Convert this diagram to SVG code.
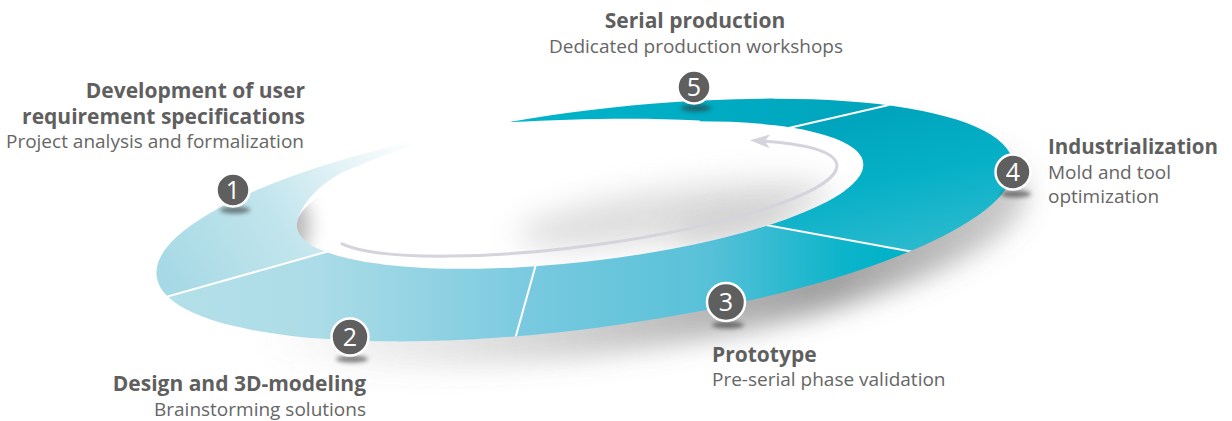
<svg xmlns="http://www.w3.org/2000/svg" width="1232" height="421" viewBox="0 0 1232 421">
<defs>
<style>
.t{font-family:"Open Sans","Noto Sans","DejaVu Sans",sans-serif;fill:#666666}
.b{font-weight:700;font-size:21px;fill:#5f5f5f}
.r{font-size:19px}
.e{text-anchor:end}
.m{text-anchor:middle}
.num{font-family:"Open Sans","DejaVu Sans",sans-serif;font-size:25px;fill:#ffffff;text-anchor:middle}
.badge{fill:#5f5f5f;stroke:#ffffff;stroke-width:2.5}
.bsh{fill:#333333;opacity:.6;filter:url(#fB)}
.div{stroke:#ffffff;stroke-width:2;fill:none}
.wht{fill:#ffffff}
</style>
<path id="outer" d="M156.7 276.4 A432 108 -7.5 1 1 1013.3 163.6 A432 108 -7.5 1 1 156.7 276.4 Z"/>
<filter id="fB" x="-50%" y="-300%" width="200%" height="700%"><feGaussianBlur stdDeviation="2"/></filter>
<filter id="fS" x="-15%" y="-40%" width="130%" height="180%"><feGaussianBlur stdDeviation="13"/></filter>
<filter id="fH" x="-40%" y="-100%" width="180%" height="300%"><feGaussianBlur stdDeviation="15"/></filter>
<filter id="fR" x="-100%" y="-100%" width="300%" height="300%"><feGaussianBlur stdDeviation="9"/></filter>
<clipPath id="clipOuter"><use href="#outer"/></clipPath>
<clipPath id="clipHole"><ellipse cx="580" cy="195" rx="285" ry="67" transform="rotate(-6.45 580 195)"/></clipPath>
<clipPath id="w1"><polygon points="580,195 333,250 105,314 0,330 0,0 300,0"/></clipPath>
<clipPath id="w2"><polygon points="580,195 333,250 105,314 90,421 492,421 538,257"/></clipPath>
<clipPath id="w3"><polygon points="580,195 538,257 492,421 1100,421 1050,277 750,222"/></clipPath>
<clipPath id="w4"><polygon points="580,195 750,222 1050,277 1232,300 1232,0 1050,68 780,130"/></clipPath>
<clipPath id="w5"><polygon points="580,195 780,130 1050,68 1050,0 300,0"/></clipPath>
<linearGradient id="g1" gradientUnits="userSpaceOnUse" x1="170" y1="290" x2="415" y2="140">
<stop offset="0" stop-color="#a5d9e5"/><stop offset="0.45" stop-color="#c2e5ed"/><stop offset="0.8" stop-color="#ebf6f9"/><stop offset="1" stop-color="#ffffff"/>
</linearGradient>
<linearGradient id="g2" gradientUnits="userSpaceOnUse" x1="170" y1="0" x2="530" y2="0">
<stop offset="0" stop-color="#b4dfe9"/><stop offset="0.4" stop-color="#acdce7"/><stop offset="1" stop-color="#7acae0"/>
</linearGradient>
<linearGradient id="g3" gradientUnits="userSpaceOnUse" x1="520" y1="0" x2="900" y2="0">
<stop offset="0" stop-color="#7acae0"/><stop offset="0.5" stop-color="#57c1d8"/><stop offset="0.85" stop-color="#0cb4ca"/><stop offset="1" stop-color="#00b2c8"/>
</linearGradient>
<linearGradient id="g4" gradientUnits="userSpaceOnUse" x1="900" y1="110" x2="930" y2="250">
<stop offset="0" stop-color="#00a5bd"/><stop offset="0.45" stop-color="#05b0c7"/><stop offset="1" stop-color="#2cbace"/>
</linearGradient>
<linearGradient id="g5" gradientUnits="userSpaceOnUse" x1="510" y1="0" x2="900" y2="0">
<stop offset="0" stop-color="#00b5ca"/><stop offset="1" stop-color="#00a3bc"/>
</linearGradient>
<linearGradient id="gSh" gradientUnits="userSpaceOnUse" x1="250" y1="0" x2="1050" y2="0">
<stop offset="0" stop-color="#777777" stop-opacity="0"/><stop offset="0.3" stop-color="#777777" stop-opacity="0.25"/><stop offset="0.7" stop-color="#6c6c6c" stop-opacity="0.65"/><stop offset="1" stop-color="#777777" stop-opacity="0.3"/>
</linearGradient>
<marker id="ah" viewBox="0 0 20 14" refX="15" refY="7" markerWidth="20" markerHeight="14" markerUnits="userSpaceOnUse" orient="auto">
<path d="M0 0 L20 7 L0 14 L5 7 Z" fill="#d5d3dc"/>
</marker>
</defs>

<rect width="1232" height="421" fill="#ffffff"/>

<g id="ring">
<use href="#outer" fill="url(#gSh)" transform="translate(14 26)" filter="url(#fS)"/>
<use href="#outer" fill="url(#g1)" clip-path="url(#w1)"/>
<use href="#outer" fill="url(#g2)" clip-path="url(#w2)"/>
<use href="#outer" fill="url(#g3)" clip-path="url(#w3)"/>
<use href="#outer" fill="url(#g4)" clip-path="url(#w4)"/>
<use href="#outer" fill="url(#g5)" clip-path="url(#w5)"/>
<g clip-path="url(#clipOuter)">
<line class="div" x1="333" y1="250" x2="105" y2="314"/>
<line class="div" x1="538" y1="257" x2="505" y2="375"/>
<line class="div" x1="750" y1="222" x2="1050" y2="277"/>
<line class="div" x1="780" y1="130" x2="1050" y2="68"/>
</g>
<ellipse class="wht" cx="580" cy="195" rx="285" ry="67" transform="rotate(-6.45 580 195)"/>
<path class="wht" d="M296.8 227 C298 205 320 182 350 169 C372 160 392 152 412 146 L470 138 L470 200 L330 240 Z"/>
<path class="wht" d="M505 108 L511.5 122 C570 119.5 630 117 700 120.5 L700 160 L440 160 L440 108 Z"/>
<g clip-path="url(#clipHole)">
<ellipse cx="675" cy="214" rx="160" ry="26" transform="rotate(-8 675 214)" fill="#a0a0a0" opacity="0.35" filter="url(#fH)"/>
<ellipse cx="735" cy="226" rx="65" ry="13" transform="rotate(-10 735 226)" fill="#a0a0a0" opacity="0.4" filter="url(#fH)"/>
<ellipse cx="282" cy="226" rx="28" ry="38" fill="#9a9a9a" opacity="0.7" filter="url(#fR)"/>
</g>
</g>

<g id="connectors">
<path d="M-246 13.3 A256 48 0 0 0 256 0 A256 48 0 0 0 178 -34.5" transform="translate(583 198) rotate(-7.5)" fill="none" stroke="#d5d3dc" stroke-width="3" marker-end="url(#ah)"/>
</g>

<g id="step1">
<ellipse class="bsh" cx="235" cy="210" rx="15" ry="3.5"/>
<circle class="badge" cx="233" cy="190" r="16.5"/>
<text class="num" x="233" y="199">1</text>
<text class="t b e" x="305" y="98">Development of user</text>
<text class="t b e" x="305" y="124">requirement specifications</text>
<text class="t r e" x="304" y="148">Project analysis and formalization</text>
</g>

<g id="step2">
<ellipse class="bsh" cx="352" cy="359" rx="16" ry="3.5"/>
<circle class="badge" cx="350" cy="337" r="18.5"/>
<text class="num" x="350" y="346">2</text>
<text class="t b e" x="366" y="391">Design and 3D-modeling</text>
<text class="t r e" x="366" y="416">Brainstorming solutions</text>
</g>

<g id="step3">
<ellipse class="bsh" cx="728" cy="325" rx="16" ry="3.5"/>
<circle class="badge" cx="726" cy="302" r="19"/>
<text class="num" x="726" y="311">3</text>
<text class="t b" x="712" y="362">Prototype</text>
<text class="t r" x="712" y="386">Pre-serial phase validation</text>
</g>

<g id="step4">
<ellipse class="bsh" cx="1016" cy="194" rx="15" ry="3.5"/>
<circle class="badge" cx="1013" cy="172" r="17.5"/>
<text class="num" x="1013" y="181">4</text>
<text class="t b" x="1048" y="154" style="font-size:20.5px">Industrialization</text>
<text class="t r" x="1048" y="179">Mold and tool</text>
<text class="t r" x="1048" y="203">optimization</text>
</g>

<g id="step5">
<ellipse class="bsh" cx="696" cy="108" rx="15" ry="3.5"/>
<circle class="badge" cx="694" cy="87" r="16.5"/>
<text class="num" x="694" y="96">5</text>
<text class="t b m" x="695" y="28">Serial production</text>
<text class="t r m" x="696" y="53">Dedicated production workshops</text>
</g>
</svg>
